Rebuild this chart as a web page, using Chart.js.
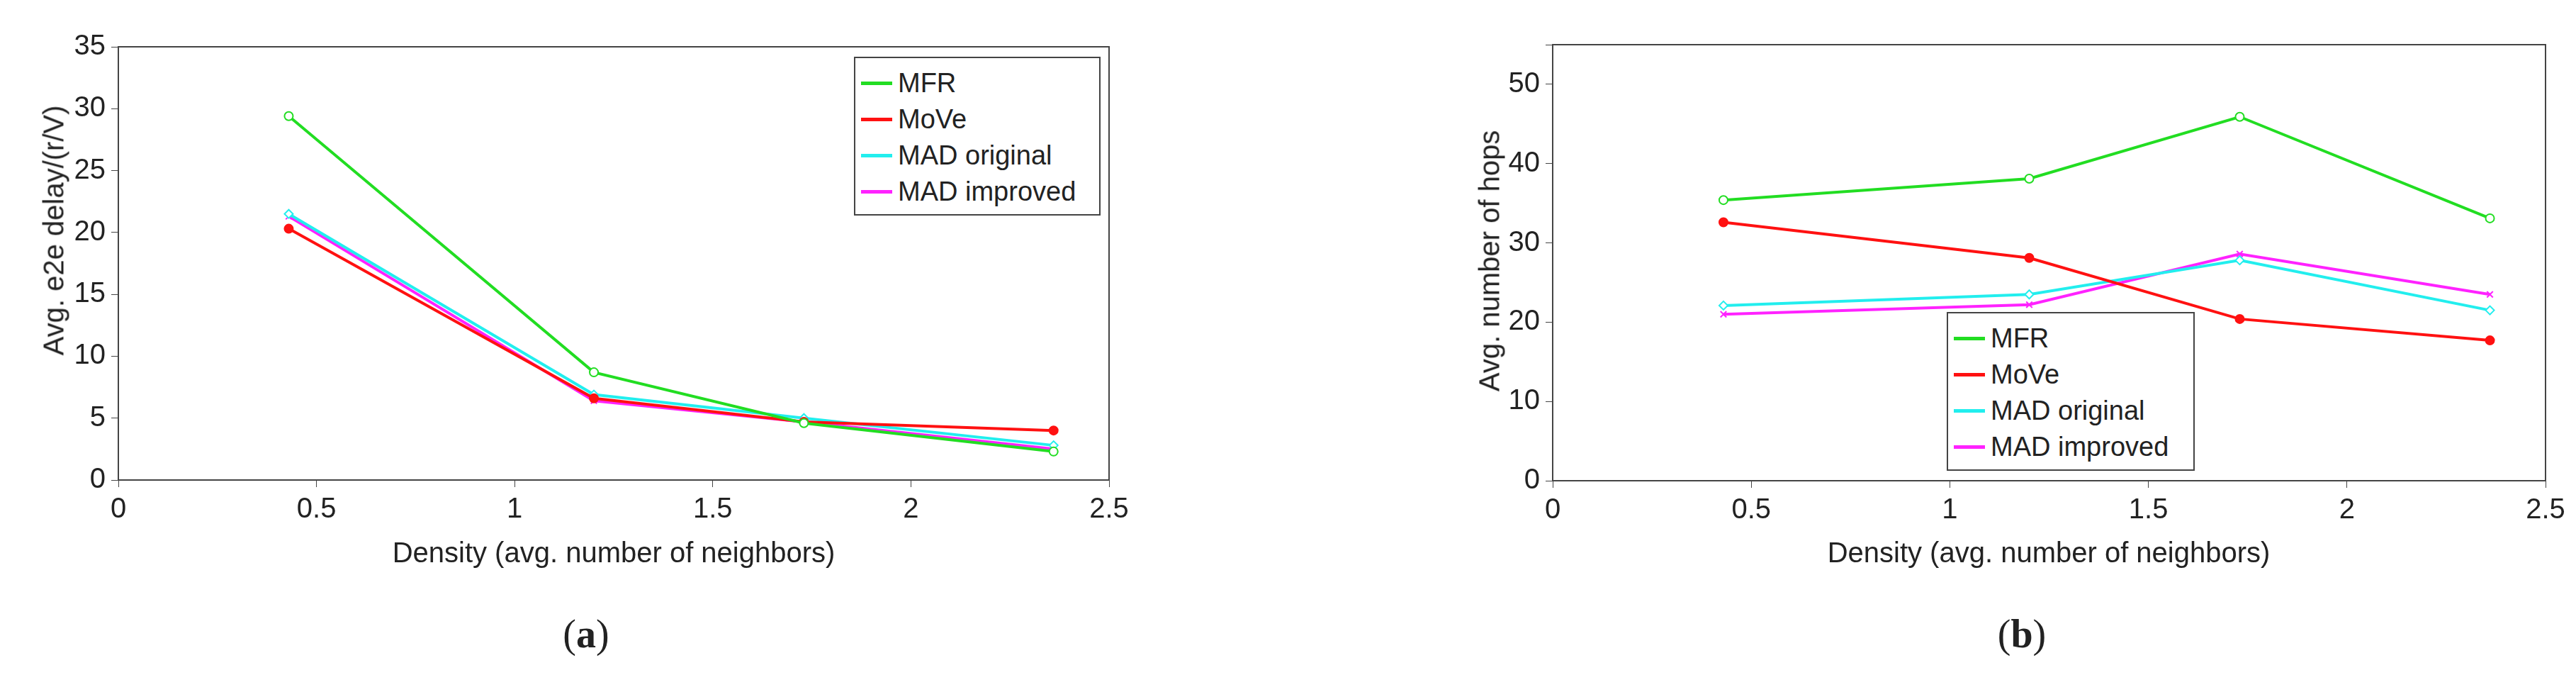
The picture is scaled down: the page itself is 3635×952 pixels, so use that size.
<!DOCTYPE html>
<html><head><meta charset="utf-8">
<script src="https://cdn.jsdelivr.net/npm/chart.js@4/dist/chart.umd.min.js"></script>
<style>
body{margin:0;background:#fff;width:3635px;height:952px;position:relative;overflow:hidden;font-family:"Liberation Sans",Arial,sans-serif;color:#222}
.c{position:absolute;top:0;height:952px}
.lab{position:absolute;font-family:"Liberation Serif","Times New Roman",serif;font-size:56px;transform:translateX(-50%)}
.t{position:absolute;font-size:40px;white-space:nowrap;transform:translate(-50%,-50%)}
.r{transform:translate(-50%,-50%) rotate(-90deg)}
.leg{position:absolute;border:2px solid #444;background:#fff;font-size:38px;padding:10px 8px;box-sizing:border-box}
.leg div{display:flex;align-items:center;height:51px}
.leg span.l{display:inline-block;width:44px;height:5px;margin-right:8px}
</style></head><body>
<div class="c" style="left:0;width:1800px"><canvas id="a"></canvas></div>
<div class="c" style="left:1820px;width:1815px"><canvas id="b"></canvas></div>
<div class="t" style="left:866px;top:779px">Density (avg. number of neighbors)</div>
<div class="t" style="left:2891px;top:779px">Density (avg. number of neighbors)</div>
<div class="t r" style="left:76px;top:325px">Avg. e2e delay/(r/V)</div>
<div class="t r" style="left:2102px;top:368px">Avg. number of hops</div>
<div class="lab" style="left:827px;top:862px">(<b>a</b>)</div>
<div class="lab" style="left:2853px;top:862px">(<b>b</b>)</div>
<div class="leg" id="la" style="left:1205px;top:80px;width:348px;height:224px"></div>
<div class="leg" id="lb" style="left:2747px;top:440px;width:350px;height:224px"></div>
<script>
const density=[0.43,1.2,1.73,2.36];
const seriesNames=["MFR","MoVe","MAD original","MAD improved"];
const delayMFR=[29.4,8.7,4.6,2.3];
const delayMoVe=[20.3,6.6,4.7,4.0];
const delayMADorig=[21.5,6.9,5.0,2.8];
const delayMADimp=[21.3,6.4,4.7,2.5];
const hopsMFR=[35.4,38.1,45.9,33.1];
const hopsMoVe=[32.6,28.1,20.4,17.7];
const hopsMADorig=[22.1,23.5,27.8,21.5];
const hopsMADimp=[21.0,22.2,28.6,23.5];
const xTicks=[0,0.5,1,1.5,2,2.5];
const colors=["#22dd22","#ff1111","#22eeee","#ff22ff"];
const styles=["circle","circle","rectRot","crossRot"];
const fills=["#fff","#ff1111","#fff","#ff22ff"];

function ds(arrs){return arrs.map((v,i)=>({label:seriesNames[i],data:density.map((x,j)=>({x,y:v[j]})),
 borderColor:colors[i],backgroundColor:fills[i],borderWidth:4,pointStyle:styles[i],pointRadius:6,pointBorderWidth:2}));}
const box={id:'box',afterDraw(c){const a=c.chartArea,x=c.ctx;x.save();x.strokeStyle='#444';x.lineWidth=2;x.strokeRect(a.left,a.top,a.right-a.left,a.bottom-a.top);x.restore();}};
function mk(id,data,ymax,ystep,padR,yw,padT,xh){
 new Chart(document.getElementById(id),{type:'line',data:{datasets:ds(data)},plugins:[box],
 options:{responsive:true,maintainAspectRatio:false,animation:false,
  layout:{padding:{top:padT,right:padR,left:0,bottom:0}},
  plugins:{legend:{display:false},tooltip:{enabled:false}},
  scales:{
   x:{type:'linear',min:0,max:2.5,afterBuildTicks(s){s.ticks=xTicks.map(v=>({value:v}));},
     afterFit(s){s.height=xh;},
     grid:{drawOnChartArea:false,color:'#444',tickLength:10},border:{color:'#444',width:2},
     ticks:{color:'#222',font:{size:40,family:'Liberation Sans'},padding:8,maxRotation:0,callback:v=>String(v)}},
   y:{min:0,max:ymax,ticks:{stepSize:ystep,color:'#222',font:{size:40,family:'Liberation Sans'},padding:8,callback:v=>v>50?'':String(v)},
     afterFit(s){s.width=yw;},
     grid:{drawOnChartArea:false,color:'#444',tickLength:10},border:{color:'#444',width:2}}
  }}});
}
mk('a',[delayMFR,delayMoVe,delayMADorig,delayMADimp],35,5,235,167,66,275);
mk('b',[hopsMFR,hopsMoVe,hopsMADorig,hopsMADimp],55,10,43,371,63,274);
function leg(id){const el=document.getElementById(id);seriesNames.forEach((n,i)=>{const d=document.createElement('div');
 d.innerHTML='<span class="l" style="background:'+colors[i]+'"></span>'+n;el.appendChild(d);});}
leg('la');leg('lb');
</script></body></html>
